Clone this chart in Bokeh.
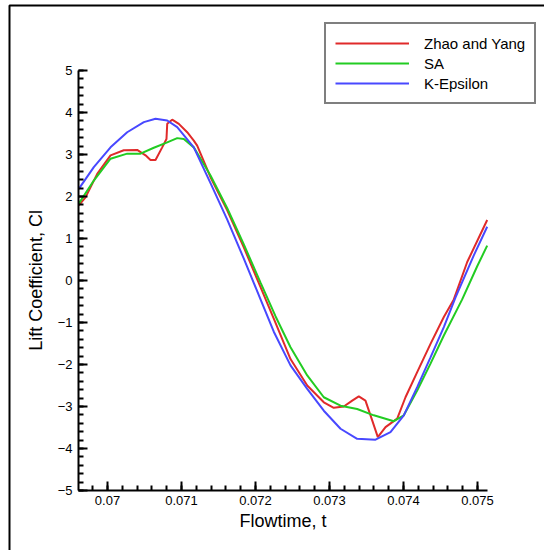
import numpy as np
from bokeh.plotting import figure
from bokeh.models import Range1d, FixedTicker, Legend, LegendItem, BoxAnnotation
from bokeh.embed import file_html
from bokeh.resources import INLINE

# ---- ticks ----
x_ticks = [0.070, 0.071, 0.072, 0.073, 0.074, 0.075]
x_tick_labels = ["0.07", "0.071", "0.072", "0.073", "0.074", "0.075"]
y_ticks = [-5, -4, -3, -2, -1, 0, 1, 2, 3, 4, 5]

# ---- series: Zhao and Yang ----
zy_t = [0.069612, 0.069703, 0.069861, 0.070041, 0.070220, 0.070401, 0.070514,
        0.070581, 0.070649, 0.070739, 0.070797, 0.070807, 0.070874, 0.070964,
        0.071077, 0.071166, 0.071212, 0.071392, 0.071618, 0.071842, 0.072068,
        0.072247, 0.072473, 0.072699, 0.072923, 0.073058, 0.073193, 0.073307,
        0.073396, 0.073486, 0.073577, 0.073653, 0.073757, 0.073915, 0.074027,
        0.074185, 0.074365, 0.074545, 0.074680, 0.074861, 0.075131]
zy_cl = [1.79, 1.98, 2.54, 2.98, 3.10, 3.11, 2.98,
         2.87, 2.87, 3.17, 3.37, 3.73, 3.83, 3.73,
         3.53, 3.33, 3.21, 2.46, 1.67, 0.79, -0.16,
         -0.91, -1.87, -2.50, -2.90, -3.03, -3.00, -2.86,
         -2.76, -2.86, -3.33, -3.73, -3.49, -3.29, -2.78,
         -2.18, -1.51, -0.87, -0.45, 0.44, 1.44]

# ---- series: SA ----
sa_t = [0.069612, 0.069815, 0.070041, 0.070266, 0.070446, 0.070626, 0.070807,
        0.070942, 0.071031, 0.071166, 0.071392, 0.071618, 0.071842, 0.072068,
        0.072270, 0.072473, 0.072699, 0.072923, 0.073149, 0.073374, 0.073599,
        0.073869, 0.074004, 0.074185, 0.074365, 0.074545, 0.074793, 0.074996,
        0.075131]
sa_cl = [1.83, 2.38, 2.90, 3.02, 3.02, 3.16, 3.29,
         3.39, 3.37, 3.17, 2.50, 1.72, 0.86, -0.05,
         -0.85, -1.59, -2.26, -2.78, -2.98, -3.06, -3.21,
         -3.35, -3.21, -2.62, -1.98, -1.31, -0.45, 0.34,
         0.83]

# ---- series: K-Epsilon ----
ke_t = [0.069612, 0.069815, 0.070041, 0.070266, 0.070491, 0.070649, 0.070807,
        0.070942, 0.071166, 0.071392, 0.071618, 0.071842, 0.072068, 0.072247,
        0.072473, 0.072699, 0.072923, 0.073149, 0.073374, 0.073622, 0.073824,
        0.074004, 0.074185, 0.074365, 0.074545, 0.074703, 0.074950, 0.075131]
ke_cl = [2.18, 2.70, 3.17, 3.53, 3.77, 3.85, 3.81,
         3.65, 3.17, 2.32, 1.45, 0.52, -0.45, -1.22,
         -2.02, -2.58, -3.10, -3.53, -3.77, -3.79, -3.61,
         -3.21, -2.54, -1.83, -1.11, -0.40, 0.60, 1.28]

FONT = "Liberation Sans"

# frame covers the whole canvas; axes are pinned inside it
p = figure(width=544, height=550, output_backend="svg", toolbar_location=None,
           x_range=Range1d(0.068554, 0.0759054), y_range=Range1d(-6.4286, 6.6667),
           min_border=0)
p.title.visible = False
p.grid.visible = False
p.outline_line_color = None
p.background_fill_color = "white"
p.border_fill_color = "white"

r1 = p.line(zy_t, zy_cl, line_color="#e02a2a", line_width=2)
r2 = p.line(sa_t, sa_cl, line_color="#22cc22", line_width=2)
r3 = p.line(ke_t, ke_cl, line_color="#4848ff", line_width=2)

x_minor = [round(0.0698 + 0.0002 * i, 5) for i in range(27)]
y_minor = [round(-5 + 0.2 * i, 2) for i in range(51)]

p.xaxis.ticker = FixedTicker(ticks=x_ticks, minor_ticks=x_minor)
p.xaxis.major_label_overrides = dict(zip(x_ticks, x_tick_labels))
p.yaxis.ticker = FixedTicker(ticks=y_ticks, minor_ticks=y_minor)

p.xaxis.fixed_location = -5
p.xaxis.bounds = (0.069608, 0.075135)
p.yaxis.fixed_location = 0.069608
p.yaxis.bounds = (-5, 5)

for ax in (p.xaxis[0], p.yaxis[0]):
    ax.axis_line_width = 2
    ax.axis_line_color = "black"
    ax.major_tick_in = 9
    ax.major_tick_out = 0
    ax.minor_tick_in = 5
    ax.minor_tick_out = 0
    ax.major_tick_line_width = 2
    ax.minor_tick_line_width = 2
    ax.major_tick_line_color = "black"
    ax.minor_tick_line_color = "black"
    ax.major_label_text_font = FONT
    ax.major_label_text_font_size = "13px"
    ax.major_label_text_color = "black"
    ax.axis_label_text_font = FONT
    ax.axis_label_text_font_size = "18px"
    ax.axis_label_text_font_style = "normal"
    ax.axis_label_text_color = "black"

p.xaxis.axis_label = "Flowtime, t"
p.yaxis.axis_label = "Lift Coefficient, Cl"
p.xaxis.major_label_standoff = 6
p.xaxis.axis_label_standoff = 2
p.yaxis.major_label_standoff = 6
p.yaxis.axis_label_standoff = 9

legend = Legend(items=[LegendItem(label="Zhao and Yang", renderers=[r1]),
                       LegendItem(label="SA", renderers=[r2]),
                       LegendItem(label="K-Epsilon", renderers=[r3])],
                location=(324, 446), orientation="vertical",
                glyph_width=74, glyph_height=20, label_height=20,
                label_standoff=15, padding=9, spacing=0, margin=0,
                border_line_color="black", border_line_width=2,
                background_fill_color="white", background_fill_alpha=1,
                label_text_font=FONT, label_text_font_size="15px",
                label_text_color="black")
p.add_layout(legend, "center")

frame = BoxAnnotation(left=9, right=700, top=5, bottom=700,
                      left_units="canvas", right_units="canvas",
                      top_units="canvas", bottom_units="canvas",
                      fill_alpha=0, line_color="black", line_alpha=1.0,
                      line_width=2)
p.add_layout(frame)

open("out.html", "w").write(file_html(p, INLINE))
